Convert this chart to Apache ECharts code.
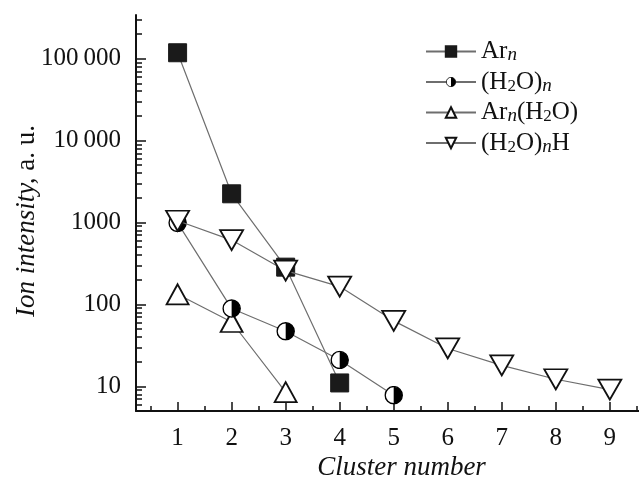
<!DOCTYPE html>
<html>
<head>
<meta charset="utf-8">
<script src="https://cdn.jsdelivr.net/npm/echarts@6/dist/echarts.min.js"></script>
<style>
  html, body { margin: 0; padding: 0; background: #fff; }
  #main { width: 639px; height: 480px; }
</style>
</head>
<body>
<div id="main"></div>
<script>
"use strict";

// cluster numbers and measured intensities (a. u.)
const clusterN = [1, 2, 3, 4, 5, 6, 7, 8, 9];
const arN = [118000, 2240, 285, 11];
const h2oN = [990, 89, 47, 21, 7.8];
const arNH2O = [133, 61, 8.5];
const h2oNH = [1050, 610, 258, 165, 63, 29, 18, 12.2, 9.1];

// tick lists
const xMajor = [1, 2, 3, 4, 5, 6, 7, 8, 9];
const xMinor = [0.5, 1.5, 2.5, 3.5, 4.5, 5.5, 6.5, 7.5, 8.5, 9.5];
const yMajor = [10, 100, 1000, 10000, 100000];
const yMinor = [6, 7, 8, 9, 20, 30, 40, 50, 60, 70, 80, 90,
  200, 300, 400, 500, 600, 700, 800, 900,
  2000, 3000, 4000, 5000, 6000, 7000, 8000, 9000,
  20000, 30000, 40000, 50000, 60000, 70000, 80000, 90000,
  200000, 300000];

const FONT = '"Liberation Serif", "DejaVu Serif", serif';

const legendRich = {
  'Ar_n': '{r|Ar}{si|n}',
  '(H2O)_n': '{r|(H}{s|2}{r|O)}{si|n}',
  'Ar_n(H2O)': '{r|Ar}{si|n}{r|(H}{s|2}{r|O)}',
  '(H2O)_nH': '{r|(H}{s|2}{r|O)}{si|n}{r|H}',
};

const halfCircle = 'image://data:image/svg+xml;charset=utf-8,' + encodeURIComponent(
  "<svg xmlns='http://www.w3.org/2000/svg' width='40' height='40' viewBox='0 0 40 40'>" +
  "<circle cx='20' cy='20' r='18' fill='white' stroke='black' stroke-width='3'/>" +
  "<path d='M20 2 A18 18 0 0 1 20 38 Z' fill='black'/></svg>");

function pairs(vals) {
  return vals.map((v, i) => [clusterN[i], v]);
}

function fmtY(v) {
  let s = String(Math.round(v));
  if (s.length > 4) s = s.slice(0, s.length - 3) + '\u2009' + s.slice(-3);
  return s;
}

let myChart = echarts.init(document.getElementById('main'));

const lineStyle = { color: '#6e6e6e', width: 1.2 };

let option = {
  animation: false,
  backgroundColor: '#fff',
  grid: { left: 136, top: 15, right: 0, bottom: 69, outerBoundsMode: 'none', containLabel: false },
  legend: {
    orient: 'vertical',
    left: 420,
    top: 34,
    itemWidth: 50,
    itemHeight: 13,
    itemGap: 5,
    formatter: name => legendRich[name],
    textStyle: {
      fontFamily: FONT,
      fontSize: 25,
      color: '#111',
      rich: {
        r: { fontFamily: FONT, fontSize: 25, lineHeight: 26, color: '#111' },
        s: { fontFamily: FONT, fontSize: 17, lineHeight: 12, verticalAlign: 'bottom', color: '#111' },
        si: { fontFamily: FONT, fontSize: 19, lineHeight: 12, fontStyle: 'italic', verticalAlign: 'bottom', color: '#111' },
      },
    },
  },
  xAxis: [
    {
      type: 'value',
      position: 'bottom',
      min: 0.23,
      max: 9.54,
      name: 'Cluster number',
      nameLocation: 'middle',
      nameGap: 43,
      nameMoveOverlap: false,
      nameTextStyle: { fontFamily: FONT, fontSize: 27, fontStyle: 'italic', color: '#111', padding: [0, 0, 0, 28] },
      axisLine: { lineStyle: { color: '#111', width: 2 } },
      axisTick: { inside: true, length: 9, customValues: xMajor, lineStyle: { color: '#111', width: 1.5 } },
      axisLabel: { customValues: xMajor, margin: 15, fontFamily: FONT, fontSize: 25, color: '#111' },
      splitLine: { show: false },
    },
    {
      type: 'value',
      position: 'bottom',
      min: 0.23,
      max: 9.54,
      axisLine: { show: false },
      axisTick: { inside: true, length: 5, customValues: xMinor, lineStyle: { color: '#111', width: 1.5 } },
      axisLabel: { show: false },
      splitLine: { show: false },
    },
  ],
  yAxis: [
    {
      type: 'log',
      logBase: 10,
      min: 5,
      max: 341000,
      name: '{i|Ion intensity,} {r|a. u.}',
      nameLocation: 'middle',
      nameGap: 96,
      nameMoveOverlap: false,
      nameTextStyle: {
        fontFamily: FONT,
        fontSize: 27,
        color: '#111',
        padding: [0, 16, 0, 0],
        rich: {
          i: { fontFamily: FONT, fontSize: 27, fontStyle: 'italic', color: '#111' },
          r: { fontFamily: FONT, fontSize: 27, color: '#111' },
        },
      },
      axisLine: { show: true, lineStyle: { color: '#111', width: 2 } },
      axisTick: { inside: true, length: 10, customValues: yMajor, lineStyle: { color: '#111', width: 1.5 } },
      axisLabel: { customValues: yMajor, formatter: fmtY, margin: 15, fontFamily: FONT, fontSize: 25, color: '#111' },
      splitLine: { show: false },
    },
    {
      type: 'log',
      logBase: 10,
      min: 5,
      max: 341000,
      position: 'left',
      axisLine: { show: false },
      axisTick: { inside: true, length: 6, customValues: yMinor, lineStyle: { color: '#111', width: 1.5 } },
      axisLabel: { show: false },
      splitLine: { show: false },
    },
  ],
  series: [
    {
      name: 'Ar_n',
      type: 'line',
      data: pairs(arN),
      symbol: 'rect',
      symbolSize: 18,
      lineStyle: lineStyle,
      itemStyle: { color: '#1a1a1a', borderColor: '#1a1a1a', borderWidth: 1 },
      z: 5,
    },
    {
      name: '(H2O)_n',
      type: 'line',
      data: pairs(h2oN),
      symbol: halfCircle,
      symbolSize: 19,
      lineStyle: lineStyle,
      itemStyle: { color: '#111' },
      z: 4,
    },
    {
      name: 'Ar_n(H2O)',
      type: 'line',
      data: pairs(arNH2O),
      symbol: 'triangle',
      symbolSize: [22, 20],
      lineStyle: lineStyle,
      itemStyle: { color: '#fff', borderColor: '#111', borderWidth: 1.8 },
      z: 3,
    },
    {
      name: '(H2O)_nH',
      type: 'line',
      data: pairs(h2oNH),
      symbol: 'triangle',
      symbolRotate: 180,
      symbolSize: [23, 20],
      lineStyle: lineStyle,
      itemStyle: { color: '#fff', borderColor: '#111', borderWidth: 1.8 },
      z: 6,
    },
  ],
};

myChart.setOption(option);
</script>
</body>
</html>
